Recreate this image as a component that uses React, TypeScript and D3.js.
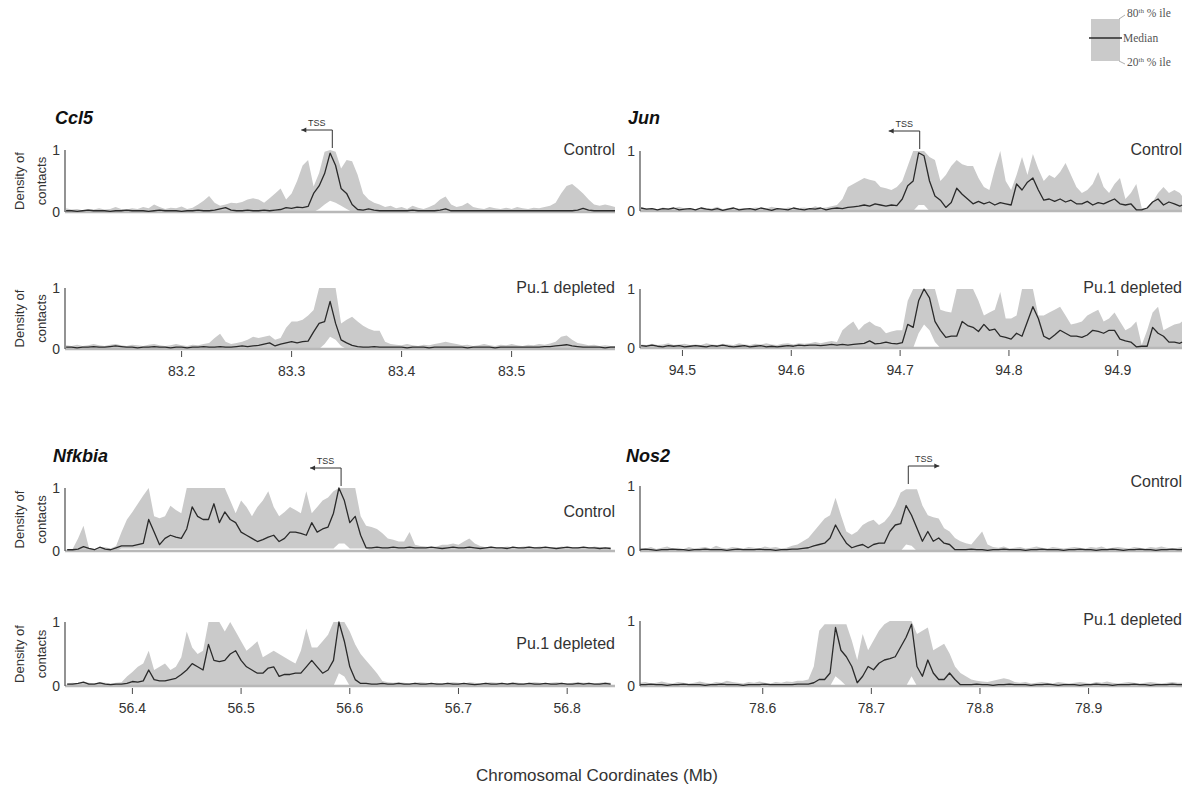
import React from 'react';
import * as d3 from 'd3';

// panels, left to right then top to bottom
const genes = ['Ccl5', 'Jun', 'Nfkbia', 'Nos2'];
const conditions = ['Control', 'Pu.1 depleted'];

// genomic window of each gene (Mb) and its tick marks
const windowMb = [
  [83.094, 83.594],
  [94.461, 94.959],
  [56.338, 56.844],
  [78.487, 78.986],
];
const ticksMb = [
  [83.2, 83.3, 83.4, 83.5],
  [94.5, 94.6, 94.7, 94.8, 94.9],
  [56.4, 56.5, 56.6, 56.7, 56.8],
  [78.6, 78.7, 78.8, 78.9],
];
// profiles are sampled in 5 kb bins starting here
const binStart = [83.095, 94.462, 56.34, 78.487];
const binSize = 0.005;
const tssMb = [83.337, 94.718, 56.592, 78.734];
const tssStrand = [-1, -1, -1, 1];

// ---- Ccl5 ----
const ccl5CtrlMed = [
  .02, .02, .01, .02, .03, .02, .02, .02, .01, .02,
  .02, .03, .02, .02, .02, .01, .02, .03, .02, .02,
  .02, .01, .02, .02, .03, .02, .02, .03, .05, .07,
  .03, .02, .02, .03, .02, .02, .03, .02, .03, .04,
  .07, .06, .08, .07, .09, .3, .42, .62, .95, .75,
  .38, .3, .12, .04, .03, .05, .03, .02, .02, .02,
  .02, .02, .02, .03, .02, .02, .02, .02, .03, .05,
  .02, .02, .02, .02, .02, .02, .02, .02, .02, .02,
  .02, .02, .02, .02, .02, .02, .02, .02, .02, .02,
  .02, .02, .02, .03, .06, .03, .02, .02, .02, .02,
  .02];
const ccl5CtrlUp = [
  .06, .04, .05, .03, .05, .04, .06, .04, .05, .08,
  .05, .04, .06, .05, .08, .06, .12, .08, .05, .07,
  .06, .09, .05, .07, .12, .18, .26, .15, .1, .12,
  .15, .14, .16, .2, .22, .2, .15, .22, .3, .38,
  .2, .3, .5, .75, .84, .41, .63, .97, 1, .97,
  .7, .84, .82, .6, .3, .2, .15, .12, .08, .1,
  .06, .08, .05, .1, .07, .05, .08, .12, .2, .25,
  .12, .08, .1, .15, .08, .06, .05, .08, .06, .05,
  .07, .05, .08, .06, .05, .07, .06, .08, .1, .15,
  .3, .42, .45, .38, .3, .2, .12, .1, .12, .1,
  .08];
const ccl5CtrlLow = [
  0, 0, 0, 0, 0, 0, 0, 0, 0, 0,
  0, 0, 0, 0, 0, 0, 0, 0, 0, 0,
  0, 0, 0, 0, 0, 0, 0, 0, 0, 0,
  0, 0, 0, 0, 0, 0, 0, 0, 0, 0,
  0, 0, 0, 0, 0, 0, .05, .12, .18, .15,
  .1, .05, 0, 0, 0, 0, 0, 0, 0, 0,
  0, 0, 0, 0, 0, 0, 0, 0, 0, 0,
  0, 0, 0, 0, 0, 0, 0, 0, 0, 0,
  0, 0, 0, 0, 0, 0, 0, 0, 0, 0,
  0, 0, 0, 0, 0, 0, 0, 0, 0, 0,
  0];
const ccl5PuMed = [
  .03, .03, .02, .03, .03, .04, .03, .03, .04, .05,
  .04, .03, .03, .02, .03, .03, .04, .03, .03, .02,
  .03, .03, .02, .03, .03, .04, .03, .03, .04, .03,
  .03, .04, .05, .04, .05, .06, .08, .1, .05, .08,
  .1, .12, .1, .12, .13, .28, .42, .45, .78, .42,
  .15, .1, .06, .04, .03, .03, .04, .03, .03, .03,
  .03, .03, .02, .03, .03, .03, .02, .03, .03, .03,
  .03, .03, .03, .02, .03, .03, .03, .03, .02, .03,
  .03, .03, .03, .03, .03, .03, .03, .04, .04, .05,
  .06, .07, .05, .04, .03, .03, .03, .03, .02, .03,
  .03];
const ccl5PuUp = [
  .06, .05, .07, .05, .06, .08, .06, .05, .07, .08,
  .06, .05, .07, .06, .05, .07, .08, .06, .05, .06,
  .08, .06, .05, .07, .06, .08, .1, .18, .25, .12,
  .08, .1, .12, .15, .2, .18, .2, .22, .15, .18,
  .35, .45, .45, .48, .55, .64, 1, 1, 1, 1,
  .42, .48, .53, .45, .38, .33, .3, .3, .12, .08,
  .07, .06, .08, .06, .05, .07, .06, .08, .1, .12,
  .1, .08, .06, .07, .05, .06, .08, .06, .05, .07,
  .06, .08, .06, .05, .07, .06, .08, .07, .09, .12,
  .2, .22, .15, .1, .08, .06, .07, .05, .06, .05,
  .05];
const ccl5PuLow = [
  0, 0, 0, 0, 0, 0, 0, 0, 0, 0,
  0, 0, 0, 0, 0, 0, 0, 0, 0, 0,
  0, 0, 0, 0, 0, 0, 0, 0, 0, 0,
  0, 0, 0, 0, 0, 0, 0, 0, 0, 0,
  0, 0, 0, 0, 0, 0, 0, .08, .2, .15,
  .05, 0, 0, 0, 0, 0, 0, 0, 0, 0,
  0, 0, 0, 0, 0, 0, 0, 0, 0, 0,
  0, 0, 0, 0, 0, 0, 0, 0, 0, 0,
  0, 0, 0, 0, 0, 0, 0, 0, 0, 0,
  0, 0, 0, 0, 0, 0, 0, 0, 0, 0,
  0];

// ---- Jun ----
const junCtrlMed = [
  .05, .03, .04, .02, .04, .03, .05, .02, .03, .04,
  .02, .05, .03, .02, .04, .01, .03, .05, .02, .03,
  .04, .02, .05, .03, .01, .04, .03, .02, .05, .03,
  .02, .04, .03, .05, .02, .04, .05, .04, .06, .07,
  .08, .1, .08, .12, .1, .08, .1, .09, .2, .42,
  .5, .97, .92, .5, .25, .18, .06, .14, .38, .28,
  .2, .12, .16, .12, .15, .1, .14, .12, .1, .45,
  .35, .48, .55, .35, .18, .2, .16, .2, .15, .18,
  .12, .12, .16, .1, .14, .12, .16, .2, .12, .1,
  .12, .02, .02, .05, .15, .2, .1, .15, .12, .08,
  .1];
const junCtrlUp = [
  .06, .04, .05, .03, .06, .04, .05, .07, .04, .05,
  .03, .06, .05, .04, .07, .03, .05, .06, .04, .05,
  .03, .06, .05, .04, .07, .05, .03, .06, .04, .05,
  .06, .04, .08, .05, .06, .08, .1, .2, .4, .45,
  .5, .55, .52, .5, .4, .38, .35, .4, .5, .75,
  1, 1, 1, .9, .85, .5, .6, .75, .85, .78,
  .75, .75, .55, .4, .35, .7, 1, .5, .35, .6,
  .9, .6, .95, .7, .5, .6, .55, .65, .8, .6,
  .4, .3, .35, .45, .65, .4, .3, .45, .55, .2,
  .3, .45, .05, .05, .15, .3, .4, .3, .35, .3,
  .25];
const junCtrlLow = [
  0, 0, 0, 0, 0, 0, 0, 0, 0, 0,
  0, 0, 0, 0, 0, 0, 0, 0, 0, 0,
  0, 0, 0, 0, 0, 0, 0, 0, 0, 0,
  0, 0, 0, 0, 0, 0, 0, 0, 0, 0,
  0, 0, 0, 0, 0, 0, 0, 0, 0, 0,
  0, .1, .1, 0, 0, 0, 0, 0, 0, 0,
  0, 0, 0, 0, 0, 0, 0, 0, 0, 0,
  0, 0, 0, 0, 0, 0, 0, 0, 0, 0,
  0, 0, 0, 0, 0, 0, 0, 0, 0, 0,
  0, 0, 0, 0, 0, 0, 0, 0, 0, 0,
  0];
const junPuMed = [
  .04, .03, .05, .03, .02, .04, .03, .04, .02, .03,
  .04, .03, .02, .04, .03, .05, .03, .02, .03, .04,
  .02, .03, .04, .02, .03, .02, .03, .04, .03, .05,
  .04, .05, .05, .04, .05, .06, .05, .06, .05, .06,
  .07, .08, .12, .07, .08, .1, .08, .07, .09, .4,
  .35, .8, 1, .85, .45, .3, .18, .2, .2, .45,
  .38, .35, .28, .4, .3, .32, .2, .18, .15, .25,
  .2, .45, .7, .5, .2, .15, .22, .3, .25, .2,
  .2, .18, .22, .3, .28, .25, .3, .3, .15, .12,
  .1, .02, .03, .03, .35, .25, .2, .1, .1, .08,
  .1];
const junPuUp = [
  .06, .05, .07, .05, .06, .08, .05, .06, .07, .05,
  .06, .05, .08, .06, .05, .07, .06, .05, .08, .06,
  .05, .07, .06, .08, .06, .05, .07, .08, .06, .08,
  .07, .08, .1, .08, .1, .12, .1, .3, .38, .45,
  .3, .4, .45, .38, .35, .25, .28, .3, .3, .8,
  1, 1, 1, 1, 1, .65, .62, .6, 1, 1,
  1, 1, .8, .55, .6, .65, .95, .5, .5, .55,
  1, 1, 1, .55, .55, .6, .65, .7, .55, .4,
  .42, .45, .55, .6, .65, .45, .5, .6, .45, .3,
  .35, .45, .05, .3, .6, .7, .3, .35, .4, .42,
  .45];
const junPuLow = [
  0, 0, 0, 0, 0, 0, 0, 0, 0, 0,
  0, 0, 0, 0, 0, 0, 0, 0, 0, 0,
  0, 0, 0, 0, 0, 0, 0, 0, 0, 0,
  0, 0, 0, 0, 0, 0, 0, 0, 0, 0,
  0, 0, 0, 0, 0, 0, 0, 0, 0, 0,
  0, .25, .4, .3, .1, 0, 0, 0, 0, 0,
  0, 0, 0, 0, 0, 0, 0, 0, 0, 0,
  0, 0, 0, 0, 0, 0, 0, 0, 0, 0,
  0, 0, 0, 0, 0, 0, 0, 0, 0, 0,
  0, 0, 0, 0, 0, 0, 0, 0, 0, 0,
  0];

// ---- Nfkbia ----
const nfkbiaCtrlMed = [
  .02, .02, .03, .07, .04, .02, .06, .03, .02, .05,
  .08, .08, .08, .1, .12, .5, .3, .1, .2, .25,
  .22, .2, .35, .7, .55, .5, .5, .75, .45, .62,
  .5, .45, .3, .25, .2, .15, .18, .22, .25, .15,
  .2, .3, .3, .28, .25, .45, .3, .35, .38, .6,
  1, .8, .45, .55, .25, .05, .05, .06, .05, .05,
  .06, .05, .05, .06, .05, .05, .05, .06, .05, .04,
  .05, .06, .05, .05, .06, .05, .04, .05, .06, .05,
  .05, .04, .06, .05, .05, .06, .05, .05, .06, .05,
  .04, .05, .06, .05, .05, .06, .05, .05, .04, .05,
  .04];
const nfkbiaCtrlUp = [
  .02, .03, .2, .4, .05, .03, .04, .06, .04, .08,
  .3, .5, .62, .75, .88, 1, .55, .52, .55, .72,
  .65, .6, 1, 1, 1, 1, 1, 1, 1, 1,
  .8, .6, .8, .7, .55, .7, .8, .95, .7, .55,
  .62, .7, .65, .6, .95, .6, .7, .8, .85, .95,
  1, 1, 1, 1, .55, .4, .38, .35, .28, .2,
  .18, .15, .15, .3, .1, .08, .07, .06, .07, .1,
  .1, .12, .1, .15, .2, .12, .08, .06, .07, .05,
  .06, .07, .06, .06, .07, .07, .06, .07, .05, .06,
  .05, .07, .06, .05, .06, .06, .05, .07, .06, .05,
  .06];
const nfkbiaCtrlLow = [
  0, 0, 0, 0, 0, 0, 0, 0, 0, 0,
  .04, .04, .04, .04, .04, .04, .04, .04, .04, .04,
  .04, .04, .04, .04, .04, .04, .04, .04, .04, .04,
  .04, .04, .04, .04, .04, .04, .04, .04, .04, .04,
  .04, .04, .04, .04, .04, .04, .04, .04, .04, .04,
  .12, .12, .04, .04, .04, .04, 0, 0, 0, 0,
  0, 0, 0, 0, 0, 0, 0, 0, 0, 0,
  0, 0, 0, 0, 0, 0, 0, 0, 0, 0,
  0, 0, 0, 0, 0, 0, 0, 0, 0, 0,
  0, 0, 0, 0, 0, 0, 0, 0, 0, 0,
  0];
const nfkbiaPuMed = [
  .03, .03, .04, .06, .03, .03, .05, .03, .02, .03,
  .03, .04, .07, .06, .08, .25, .1, .08, .08, .1,
  .12, .18, .25, .35, .3, .25, .65, .4, .38, .4,
  .5, .55, .4, .3, .25, .2, .2, .28, .3, .15,
  .18, .18, .2, .2, .3, .4, .3, .2, .25, .4,
  1, .7, .3, .1, .04, .04, .03, .03, .04, .03,
  .03, .04, .03, .03, .04, .03, .03, .04, .03, .03,
  .04, .03, .03, .04, .03, .02, .03, .04, .03, .03,
  .04, .03, .04, .03, .03, .04, .03, .03, .04, .03,
  .03, .04, .03, .03, .04, .03, .04, .03, .03, .04,
  .03];
const nfkbiaPuUp = [
  .04, .05, .04, .06, .05, .04, .06, .05, .04, .05,
  .06, .15, .22, .3, .35, .55, .25, .3, .35, .25,
  .3, .45, .85, .6, .5, .55, 1, 1, 1, .85,
  1, .85, .7, .55, .62, .7, .45, .5, .55, .5,
  .45, .4, .35, .55, .9, .6, .6, .7, .8, 1,
  1, 1, .85, .65, .5, .4, .3, .2, .08, .06,
  .05, .06, .05, .04, .05, .06, .05, .04, .05, .04,
  .05, .06, .05, .04, .06, .05, .04, .05, .06, .05,
  .05, .04, .06, .05, .04, .05, .06, .05, .04, .05,
  .06, .05, .04, .05, .06, .05, .05, .04, .05, .06,
  .05];
const nfkbiaPuLow = [
  0, 0, 0, 0, 0, 0, 0, 0, 0, 0,
  0, 0, 0, 0, 0, 0, 0, 0, 0, 0,
  0, 0, 0, 0, 0, 0, 0, 0, 0, 0,
  0, 0, 0, 0, 0, 0, 0, 0, 0, 0,
  0, 0, 0, 0, 0, 0, 0, 0, 0, 0,
  .2, .15, 0, 0, 0, 0, 0, 0, 0, 0,
  0, 0, 0, 0, 0, 0, 0, 0, 0, 0,
  0, 0, 0, 0, 0, 0, 0, 0, 0, 0,
  0, 0, 0, 0, 0, 0, 0, 0, 0, 0,
  0, 0, 0, 0, 0, 0, 0, 0, 0, 0,
  0];

// ---- Nos2 ----
const nos2CtrlMed = [
  .02, .03, .02, .01, .02, .02, .03, .02, .02, .01,
  .02, .02, .03, .02, .02, .02, .01, .02, .03, .02,
  .02, .02, .03, .02, .02, .01, .02, .02, .03, .03,
  .04, .05, .08, .1, .12, .2, .4, .25, .12, .05,
  .08, .1, .05, .1, .12, .12, .3, .4, .42, .7,
  .55, .35, .15, .3, .15, .2, .12, .1, .02, .02,
  .02, .03, .02, .02, .01, .02, .02, .03, .02, .02,
  .02, .01, .02, .02, .03, .02, .02, .02, .01, .02,
  .02, .03, .02, .02, .01, .02, .02, .03, .02, .01,
  .02, .02, .03, .02, .02, .01, .02, .02, .03, .02,
  .02];
const nos2CtrlUp = [
  .05, .04, .06, .03, .05, .07, .04, .05, .03, .06,
  .04, .05, .06, .04, .08, .05, .04, .06, .05, .04,
  .06, .05, .04, .07, .05, .06, .04, .05, .08, .1,
  .15, .2, .3, .4, .5, .55, .82, .55, .3, .25,
  .3, .4, .45, .48, .4, .45, .55, .7, .9, .95,
  .95, .95, .7, .55, .52, .5, .35, .3, .2, .15,
  .12, .1, .2, .3, .1, .06, .05, .07, .04, .05,
  .06, .04, .05, .07, .05, .04, .06, .05, .04, .05,
  .06, .05, .04, .06, .05, .07, .04, .05, .06, .05,
  .04, .06, .05, .04, .06, .05, .07, .05, .04, .05,
  .06];
const nos2CtrlLow = [
  0, 0, 0, 0, 0, 0, 0, 0, 0, 0,
  0, 0, 0, 0, 0, 0, 0, 0, 0, 0,
  0, 0, 0, 0, 0, 0, 0, 0, 0, 0,
  0, 0, 0, 0, 0, 0, 0, 0, 0, 0,
  0, 0, 0, 0, 0, 0, 0, 0, 0, .1,
  .08, 0, 0, 0, 0, 0, 0, 0, 0, 0,
  0, 0, 0, 0, 0, 0, 0, 0, 0, 0,
  0, 0, 0, 0, 0, 0, 0, 0, 0, 0,
  0, 0, 0, 0, 0, 0, 0, 0, 0, 0,
  0, 0, 0, 0, 0, 0, 0, 0, 0, 0,
  0];
const nos2PuMed = [
  .02, .02, .03, .02, .02, .01, .02, .02, .03, .02,
  .02, .02, .01, .02, .02, .03, .02, .02, .02, .01,
  .02, .02, .02, .03, .02, .02, .02, .02, .02, .03,
  .03, .03, .05, .1, .1, .2, .9, .55, .45, .3,
  .05, .15, .3, .25, .35, .4, .42, .45, .6, .75,
  .95, .3, .15, .4, .2, .1, .1, .2, .1, .02,
  .02, .02, .03, .02, .02, .01, .02, .02, .03, .02,
  .02, .02, .01, .02, .02, .03, .02, .01, .02, .02,
  .02, .01, .02, .02, .03, .02, .02, .01, .02, .02,
  .02, .03, .02, .02, .01, .02, .02, .02, .03, .02,
  .02];
const nos2PuUp = [
  .05, .06, .04, .05, .07, .05, .04, .06, .05, .04,
  .05, .07, .05, .04, .06, .05, .08, .06, .05, .04,
  .06, .05, .07, .05, .04, .06, .05, .07, .06, .08,
  .08, .1, .3, .85, .95, .95, .95, .95, .95, .7,
  .4, .8, .55, .7, .85, .95, 1, 1, 1, 1,
  1, .8, .85, .9, .55, .6, .65, .5, .3, .2,
  .15, .1, .08, .07, .06, .08, .1, .12, .1, .06,
  .05, .06, .04, .05, .06, .05, .04, .06, .05, .04,
  .05, .06, .05, .04, .06, .05, .07, .05, .04, .05,
  .06, .05, .04, .05, .06, .05, .04, .05, .06, .05,
  .05];
const nos2PuLow = [
  0, 0, 0, 0, 0, 0, 0, 0, 0, 0,
  0, 0, 0, 0, 0, 0, 0, 0, 0, 0,
  0, 0, 0, 0, 0, 0, 0, 0, 0, 0,
  0, 0, 0, 0, 0, 0, .15, .08, 0, 0,
  0, 0, 0, 0, 0, 0, 0, 0, 0, 0,
  .15, 0, 0, 0, 0, 0, 0, 0, 0, 0,
  0, 0, 0, 0, 0, 0, 0, 0, 0, 0,
  0, 0, 0, 0, 0, 0, 0, 0, 0, 0,
  0, 0, 0, 0, 0, 0, 0, 0, 0, 0,
  0, 0, 0, 0, 0, 0, 0, 0, 0, 0,
  0];

const profiles = [
  [{ med: ccl5CtrlMed, hi: ccl5CtrlUp, lo: ccl5CtrlLow }, { med: ccl5PuMed, hi: ccl5PuUp, lo: ccl5PuLow }],
  [{ med: junCtrlMed, hi: junCtrlUp, lo: junCtrlLow }, { med: junPuMed, hi: junPuUp, lo: junPuLow }],
  [{ med: nfkbiaCtrlMed, hi: nfkbiaCtrlUp, lo: nfkbiaCtrlLow }, { med: nfkbiaPuMed, hi: nfkbiaPuUp, lo: nfkbiaPuLow }],
  [{ med: nos2CtrlMed, hi: nos2CtrlUp, lo: nos2CtrlLow }, { med: nos2PuMed, hi: nos2PuUp, lo: nos2PuLow }],
];

const FONT = '"Liberation Sans", Arial, sans-serif';

export default function App() {
  const W = 1184;
  const H = 793;

  // layout
  const colX = [[65, 615], [640, 1182]];
  const panelTop = [[150, 288], [151, 289], [488, 622], [486, 621]];
  const panelBase = [[212, 349], [211, 348], [551, 686], [551, 686]];
  const condY = [[150, 288], [150, 288], [512, 644], [482, 620]];
  const titleXY = [[55, 124], [628, 124], [53, 462], [626, 462]];

  const bandColor = '#cacaca';
  const lineColor = '#2a2a2a';
  const axisColor = '#4a4a4a';
  const textColor = '#333';

  const panels = [];
  genes.forEach((gene, g) => {
    const [x0, x1] = colX[g % 2];
    const x = d3.scaleLinear().domain(windowMb[g]).range([x0, x1]).clamp(true);

    conditions.forEach((cond, c) => {
      const top = panelTop[g][c];
      const base = panelBase[g][c];
      const y = d3.scaleLinear().domain([0, 1]).range([base, top]);
      const p = profiles[g][c];
      const pts = p.med.map((v, i) => ({
        mb: binStart[g] + i * binSize,
        med: v,
        lo: Math.min(p.lo[i], v),
        hi: Math.max(p.hi[i], v),
      }));
      const area = d3.area<any>().x(d => x(d.mb)).y0(d => y(d.lo)).y1(d => y(d.hi));
      const line = d3.line<any>().x(d => x(d.mb)).y(d => y(d.med));
      const mid = (top + base) / 2;

      panels.push(
        <g key={gene + c}>
          <path d={area(pts)} fill={bandColor} />
          <line x1={x0} x2={x1} y1={base} y2={base} stroke="#b8b8b8" strokeWidth={2.5} />
          <path d={line(pts)} fill="none" stroke={lineColor} strokeWidth={1.3} strokeLinejoin="round" />
          <line x1={x0} x2={x0} y1={top} y2={base} stroke={axisColor} strokeWidth={1.2} />
          <text x={x0 - 5} y={y(1) + 5} textAnchor="end" fontSize={14} fill={textColor}>1</text>
          <text x={x0 - 5} y={y(0) + 5} textAnchor="end" fontSize={14} fill={textColor}>0</text>
          <text x={x1} y={condY[g][c] + 5} textAnchor="end" fontSize={16} fill={textColor}>{cond}</text>
          {g % 2 === 0 && (
            <g fontSize={13} fill={textColor} textAnchor="middle">
              <text transform={`translate(24,${mid}) rotate(-90)`}>Density of</text>
              <text transform={`translate(46,${mid}) rotate(-90)`}>contacts</text>
            </g>
          )}
          {c === 1 && ticksMb[g].map(t => (
            <g key={t}>
              <line x1={x(t)} x2={x(t)} y1={base + 2} y2={base + 8} stroke={axisColor} strokeWidth={1} />
              <text x={x(t)} y={base + 27} textAnchor="middle" fontSize={14} fill={textColor}>{t.toFixed(1)}</text>
            </g>
          ))}
        </g>
      );
    });

    // TSS marker above the control panel
    const top = panelTop[g][0];
    const tx = x(tssMb[g]);
    const ly = top - 20;
    const ex = tx + tssStrand[g] * 31;
    const s = tssStrand[g];
    panels.push(
      <g key={gene + 'tss'}>
        <path d={`M${tx},${top - 2}V${ly}H${ex}`} fill="none" stroke="#333" strokeWidth={1} />
        <path d={`M${ex},${ly}l${-s * 5},-2.5v5z`} fill="#333" />
        <text x={(tx + ex) / 2} y={ly - 4} textAnchor="middle" fontSize={9} fill="#333">TSS</text>
        <text x={titleXY[g][0]} y={titleXY[g][1]} fontSize={18} fontWeight="bold" fontStyle="italic" fill="#111">{gene}</text>
      </g>
    );
  });

  return (
    <svg width={W} height={H} style={{ position: 'absolute', left: 0, top: 0, background: '#fff' }} fontFamily={FONT}>
      {panels}

      {/* legend */}
      <g fontFamily='"Liberation Serif", serif' fontSize={11.5} fill="#555">
        <rect x={1091} y={19} width={29} height={42} fill={bandColor} />
        <line x1={1089} x2={1122} y1={38} y2={38} stroke={lineColor} strokeWidth={1.5} />
        <line x1={1119} x2={1125} y1={19} y2={15} stroke="#999" strokeWidth={0.8} />
        <line x1={1119} x2={1125} y1={61} y2={64} stroke="#999" strokeWidth={0.8} />
        <text x={1127} y={17}>80<tspan fontSize={7} dy={-4}>th</tspan><tspan dy={4}> % ile</tspan></text>
        <text x={1123} y={42}>Median</text>
        <text x={1127} y={66}>20<tspan fontSize={7} dy={-4}>th</tspan><tspan dy={4}> % ile</tspan></text>
      </g>

      <text x={597} y={781} textAnchor="middle" fontSize={17} fill={textColor}>Chromosomal Coordinates (Mb)</text>
    </svg>
  );
}
